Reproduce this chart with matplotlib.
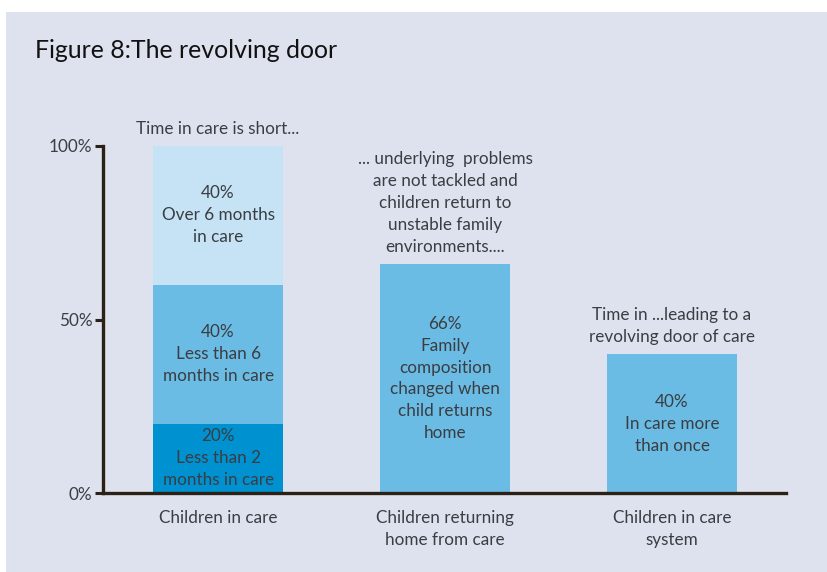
import matplotlib
matplotlib.use("Agg")
import matplotlib.pyplot as plt
import numpy as np

plt.rcParams['font.family'] = ['Lato', 'DejaVu Sans']

categories = ["Children in care", "Children returning\nhome from care", "Children in care\nsystem"]
# stacked segments of the first bar (bottom to top)
care_segments = [20, 40, 40]
care_labels = ["20%\nLess than 2\nmonths in care",
               "40%\nLess than 6\nmonths in care",
               "40%\nOver 6 months\nin care"]
care_colors = ["#0092d0", "#6bbce4", "#c5e3f4"]
# single bars
single_values = [66, 40]
single_labels = ["66%\nFamily\ncomposition\nchanged when\nchild returns\nhome",
                 "40%\nIn care more\nthan once"]
headers = ["Time in care is short...",
           "... underlying  problems\nare not tackled and\nchildren return to\nunstable family\nenvironments....",
           "Time in ...leading to a\nrevolving door of care"]
yticks = [0, 50, 100]
ytick_labels = ["0%", "50%", "100%"]

bg = "#dde2ee"
txt = "#3a3d42"
axis_col = "#2b2116"
fs = 12.3
ls = 1.46

fig = plt.figure(figsize=(8.27, 5.72), dpi=100)
fig.patch.set_facecolor("white")
# background panel
fig.add_artist(plt.Rectangle((6 / 827, 0), 1, 1 - 12 / 572, transform=fig.transFigure,
                             facecolor=bg, edgecolor="none", zorder=0))

ax = fig.add_axes([103 / 827, 1 - 493 / 572, 683 / 827, 347 / 572])
ax.set_facecolor("none")
x = np.arange(len(categories))
width = 0.573

bottom = 0
for v, lab, c in zip(care_segments, care_labels, care_colors):
    ax.bar(x[0], v, width, bottom=bottom, color=c, zorder=2)
    ax.text(x[0], bottom + v / 2, lab, ha="center", va="center", fontsize=fs,
            color=txt, linespacing=ls, zorder=3)
    bottom += v

for xi, v, lab in zip(x[1:], single_values, single_labels):
    ax.bar(xi, v, width, color="#6bbce4", zorder=2)
    ax.text(xi, v / 2, lab, ha="center", va="center", fontsize=fs,
            color=txt, linespacing=ls, zorder=3)

tops = [sum(care_segments)] + single_values
for xi, t, h in zip(x, tops, headers):
    ax.text(xi, t + 2.6, h, ha="center", va="bottom", fontsize=fs, color=txt,
            linespacing=ls)

ax.set_xlim(-0.507, 2.502)
ax.set_ylim(0, 100)
ax.set_yticks(yticks)
ax.set_yticklabels(ytick_labels, fontsize=fs, color=txt)
ax.set_xticks(x)
ax.set_xticklabels(categories, fontsize=fs, color=txt, linespacing=ls)
ax.tick_params(axis="x", length=0, pad=12.5)
ax.tick_params(axis="y", length=6, width=2.2, color=axis_col, pad=1.5)
for s in ["top", "right"]:
    ax.spines[s].set_visible(False)
for s in ["left", "bottom"]:
    ax.spines[s].set_color(axis_col)
    ax.spines[s].set_linewidth(2.4)
    ax.spines[s].set_zorder(4)

fig.text(35 / 827, 1 - 50 / 572, "Figure 8:The revolving door", fontsize=17.9,
         color="#111111", va="center", ha="left")

fig.savefig("out.png", dpi=100, facecolor=fig.get_facecolor())
